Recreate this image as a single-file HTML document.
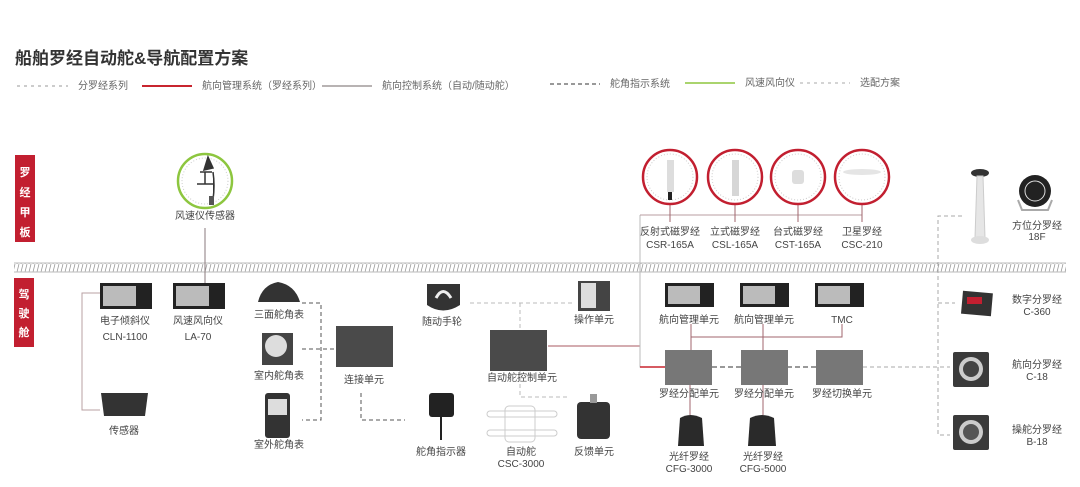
<!DOCTYPE html>
<html><head><meta charset="utf-8"><style>
html,body{margin:0;padding:0;background:#fff;}
body{width:1080px;height:487px;overflow:hidden;position:relative;font-family:"Liberation Sans","Noto Sans CJK SC",sans-serif;}
svg{position:absolute;left:0;top:0;}
</style></head><body>
<svg width="1080" height="487" viewBox="0 0 1080 487" font-family="Liberation Sans, Noto Sans CJK SC, sans-serif">
<defs>
<pattern id="hatch" width="4" height="8" patternUnits="userSpaceOnUse"><line x1="3" y1="0" x2="1" y2="8" stroke="#999" stroke-width="0.8"/></pattern>
</defs>
<!-- title -->
<text x="15" y="64" font-size="17" font-weight="bold" fill="#333">船舶罗经自动舵&amp;导航配置方案</text>
<!-- legend -->
<g font-size="10" fill="#666">
<line x1="17" y1="86" x2="68" y2="86" stroke="#999" stroke-dasharray="3,4"/><text x="78" y="89">分罗经系列</text>
<line x1="142" y1="86" x2="192" y2="86" stroke="#c8252f" stroke-width="2"/><text x="202" y="89">航向管理系统（罗经系列）</text>
<line x1="322" y1="86" x2="372" y2="86" stroke="#a09a9a" stroke-width="1.5"/><text x="382" y="89">航向控制系统（自动/随动舵）</text>
<line x1="550" y1="84" x2="600" y2="84" stroke="#333" stroke-dasharray="4,3"/><text x="610" y="87">舵角指示系统</text>
<line x1="685" y1="83" x2="735" y2="83" stroke="#8dc63f" stroke-width="1.5"/><text x="745" y="86">风速风向仪</text>
<line x1="800" y1="83" x2="850" y2="83" stroke="#aaa" stroke-dasharray="3,4"/><text x="860" y="86">选配方案</text>
</g>
<!-- tags -->
<rect x="15" y="155" width="20" height="87" fill="#c21f30"/>
<g font-size="11" font-weight="bold" fill="#fff" text-anchor="middle"><text x="25" y="176">罗</text><text x="25" y="196">经</text><text x="25" y="216">甲</text><text x="25" y="236">板</text>
</g>
<rect x="14" y="278" width="20" height="69" fill="#c21f30"/>
<g font-size="11" font-weight="bold" fill="#fff" text-anchor="middle"><text x="24" y="298">驾</text><text x="24" y="317">驶</text><text x="24" y="336">舱</text></g>
<!-- divider -->
<rect x="14" y="263" width="1052" height="9" fill="url(#hatch)"/>
<line x1="14" y1="263" x2="1066" y2="263" stroke="#bbb"/><line x1="14" y1="272" x2="1066" y2="272" stroke="#bbb"/>

<!-- connectors -->
<g fill="none">
<line x1="205" y1="228" x2="205" y2="284" stroke="#8a7a7c"/>
<polyline points="100,293 82,293 82,410 100,410" stroke="#b9a0a3"/>
<polyline points="302,303 321,303 321,420 302,420" stroke="#555" stroke-dasharray="4,3"/>
<line x1="302" y1="349" x2="338" y2="349" stroke="#555" stroke-dasharray="4,3"/>
<polyline points="361,393 361,420 405,420" stroke="#555" stroke-dasharray="4,3"/>
<polyline points="470,303 572,303" stroke="#bbb" stroke-dasharray="4,3"/>
<line x1="520" y1="303" x2="520" y2="330" stroke="#bbb" stroke-dasharray="4,3"/>
<polyline points="520,370 520,397 570,397" stroke="#bbb" stroke-dasharray="4,3"/>
<line x1="548" y1="346" x2="640" y2="346" stroke="#a85a62"/>
<polyline points="640,215 640,367 668,367" stroke="#bbb"/>
<line x1="640" y1="367" x2="668" y2="367" stroke="#c8252f" stroke-width="1.5"/>
<polyline points="640,215 862,215" stroke="#b89da0"/>
<line x1="670" y1="204" x2="670" y2="222" stroke="#a0666d"/><line x1="735" y1="204" x2="735" y2="222" stroke="#a0666d"/>
<line x1="798" y1="204" x2="798" y2="222" stroke="#a0666d"/><line x1="862" y1="204" x2="862" y2="222" stroke="#a0666d"/>
<polyline points="691,350 691,337 842,337 842,324" stroke="#a0666d"/>
<line x1="763" y1="324" x2="763" y2="350" stroke="#a0666d"/>
<line x1="691" y1="324" x2="691" y2="337" stroke="#a0666d"/>
<line x1="712" y1="367" x2="741" y2="367" stroke="#333" stroke-dasharray="5,3"/>
<line x1="787" y1="367" x2="816" y2="367" stroke="#333" stroke-dasharray="5,3"/>
<line x1="863" y1="367" x2="950" y2="367" stroke="#aaa" stroke-dasharray="4,3"/>
<line x1="690" y1="385" x2="690" y2="415" stroke="#a0666d"/><line x1="763" y1="385" x2="763" y2="415" stroke="#a0666d"/>
<polyline points="962,216 938,216 938,435 950,435" stroke="#aaa" stroke-dasharray="4,3"/>
<line x1="938" y1="303" x2="955" y2="303" stroke="#aaa" stroke-dasharray="4,3"/>
</g>

<!-- wind sensor -->
<circle cx="205" cy="181" r="27" fill="#fff" stroke="#8dc63f" stroke-width="2.5"/>
<circle cx="205" cy="181" r="23" fill="none" stroke="#ccc" stroke-dasharray="1,2"/>
<path d="M208 157 L213 168 L204 170 Z M200 172 L212 172 M205 172 L205 184 M197 184 L213 184 M213 172 Q215 185 213 200" stroke="#333" stroke-width="1.5" fill="#333"/>
<rect x="209" y="196" width="5" height="9" fill="#555"/>

<!-- compass circles -->
<g fill="#fff" stroke="#c21f30" stroke-width="2.5">
<circle cx="670" cy="177" r="27"/><circle cx="735" cy="177" r="27"/><circle cx="798" cy="177" r="27"/><circle cx="862" cy="177" r="27"/></g>
<g fill="none" stroke="#ccc" stroke-dasharray="1,2"><circle cx="670" cy="177" r="23"/><circle cx="735" cy="177" r="23"/><circle cx="798" cy="177" r="23"/><circle cx="862" cy="177" r="23"/></g>
<rect x="667" y="160" width="7" height="32" fill="#ddd"/><rect x="668" y="192" width="4" height="8" fill="#222"/>
<rect x="732" y="160" width="7" height="36" fill="#d6d6d6"/>
<rect x="792" y="170" width="12" height="14" rx="3" fill="#ddd"/>
<ellipse cx="862" cy="172" rx="19" ry="3" fill="#e5e5e5"/>

<!-- 18F -->
<ellipse cx="980" cy="173" rx="9" ry="4" fill="#333"/>
<path d="M977 176 L983 176 L985 238 L975 238 Z" fill="#e6e6e6" stroke="#ccc"/>
<ellipse cx="980" cy="240" rx="9" ry="4" fill="#ddd"/>
<circle cx="1035" cy="191" r="16" fill="#222"/><circle cx="1035" cy="191" r="10" fill="none" stroke="#ddd"/>
<path d="M1018 200 L1022 210 L1048 210 L1052 200" fill="none" stroke="#aaa" stroke-width="2"/>

<!-- displays -->
<g>
<rect x="100" y="283" width="52" height="26" fill="#222"/><rect x="103" y="286" width="33" height="20" fill="#bbb"/>
<rect x="173" y="283" width="52" height="26" fill="#222"/><rect x="176" y="286" width="33" height="20" fill="#bbb"/>
<rect x="665" y="283" width="49" height="24" fill="#222"/><rect x="668" y="286" width="32" height="18" fill="#bbb"/>
<rect x="740" y="283" width="49" height="24" fill="#222"/><rect x="743" y="286" width="32" height="18" fill="#bbb"/>
<rect x="815" y="283" width="49" height="24" fill="#222"/><rect x="818" y="286" width="32" height="18" fill="#bbb"/>
</g>
<path d="M101 393 L148 393 L145 416 L104 416 Z" fill="#333"/>
<!-- rudder indicators -->
<path d="M258 302 Q262 285 278 282 Q295 285 300 302 Z" fill="#333"/>
<rect x="262" y="333" width="31" height="32" fill="#444"/><circle cx="276" cy="346" r="11" fill="#ddd"/>
<rect x="265" y="393" width="25" height="45" rx="3" fill="#333"/><rect x="268" y="399" width="19" height="16" fill="#ddd"/>
<!-- units -->
<rect x="336" y="326" width="57" height="41" fill="#4a4a4a"/>
<rect x="490" y="330" width="57" height="41" fill="#4a4a4a"/>
<path d="M427 284 L460 284 L460 305 Q443 316 427 305 Z" fill="#333"/><path d="M436 298 Q443 285 451 298" stroke="#eee" stroke-width="3" fill="none"/>
<rect x="578" y="281" width="32" height="30" fill="#444"/><rect x="581" y="283" width="15" height="25" fill="#ddd"/>
<rect x="429" y="393" width="25" height="24" rx="3" fill="#222"/><line x1="441" y1="417" x2="441" y2="440" stroke="#222" stroke-width="2"/>
<g fill="none" stroke="#ccc"><rect x="505" y="406" width="30" height="36" rx="4"/><rect x="487" y="411" width="70" height="6" rx="3"/><rect x="487" y="430" width="70" height="6" rx="3"/></g>
<rect x="577" y="402" width="33" height="37" rx="4" fill="#333"/><rect x="590" y="394" width="7" height="9" fill="#999"/>
<rect x="665" y="350" width="47" height="35" fill="#777"/>
<rect x="741" y="350" width="47" height="35" fill="#777"/>
<rect x="816" y="350" width="47" height="35" fill="#777"/>
<path d="M680 418 Q690 412 702 418 L704 446 L678 446 Z" fill="#2a2a2a"/>
<path d="M750 418 Q762 412 774 418 L776 446 L748 446 Z" fill="#2a2a2a"/>
<!-- repeaters -->
<rect x="962" y="292" width="30" height="23" fill="#333" transform="rotate(5 977 303)"/><rect x="967" y="297" width="15" height="7" fill="#c21f30"/>
<rect x="953" y="352" width="36" height="35" rx="2" fill="#3a3a3a"/><circle cx="971" cy="369" r="12" fill="#ccc"/><circle cx="971" cy="369" r="8" fill="#444"/>
<rect x="953" y="415" width="36" height="35" rx="2" fill="#3a3a3a"/><circle cx="971" cy="432" r="12" fill="#ccc"/><circle cx="971" cy="432" r="8" fill="#555"/>

<!-- labels -->
<g font-size="10" fill="#444" text-anchor="middle">
<text x="205" y="219">风速仪传感器</text>
<text x="125" y="324">电子倾斜仪</text><text x="125" y="340">CLN-1100</text>
<text x="198" y="324">风速风向仪</text><text x="198" y="340">LA-70</text>
<text x="124" y="434">传感器</text>
<text x="279" y="318">三面舵角表</text><text x="279" y="379">室内舵角表</text><text x="279" y="448">室外舵角表</text>
<text x="364" y="383">连接单元</text>
<text x="442" y="325">随动手轮</text>
<text x="441" y="455">舵角指示器</text>
<text x="522" y="381">自动舵控制单元</text>
<text x="521" y="455">自动舵</text><text x="521" y="467">CSC-3000</text>
<text x="594" y="323">操作单元</text><text x="594" y="455">反馈单元</text>
<text x="670" y="235">反射式磁罗经</text><text x="670" y="248">CSR-165A</text>
<text x="735" y="235">立式磁罗经</text><text x="735" y="248">CSL-165A</text>
<text x="798" y="235">台式磁罗经</text><text x="798" y="248">CST-165A</text>
<text x="862" y="235">卫星罗经</text><text x="862" y="248">CSC-210</text>
<text x="689" y="323">航向管理单元</text><text x="764" y="323">航向管理单元</text><text x="842" y="323">TMC</text>
<text x="689" y="397">罗经分配单元</text><text x="764" y="397">罗经分配单元</text><text x="842" y="397">罗经切换单元</text>
<text x="689" y="460">光纤罗经</text><text x="689" y="472">CFG-3000</text>
<text x="763" y="460">光纤罗经</text><text x="763" y="472">CFG-5000</text>
<text x="1037" y="229">方位分罗经</text><text x="1037" y="240">18F</text>
<text x="1037" y="303">数字分罗经</text><text x="1037" y="315">C-360</text>
<text x="1037" y="368">航向分罗经</text><text x="1037" y="380">C-18</text>
<text x="1037" y="433">操舵分罗经</text><text x="1037" y="445">B-18</text>
</g>
</svg>
</body></html>
